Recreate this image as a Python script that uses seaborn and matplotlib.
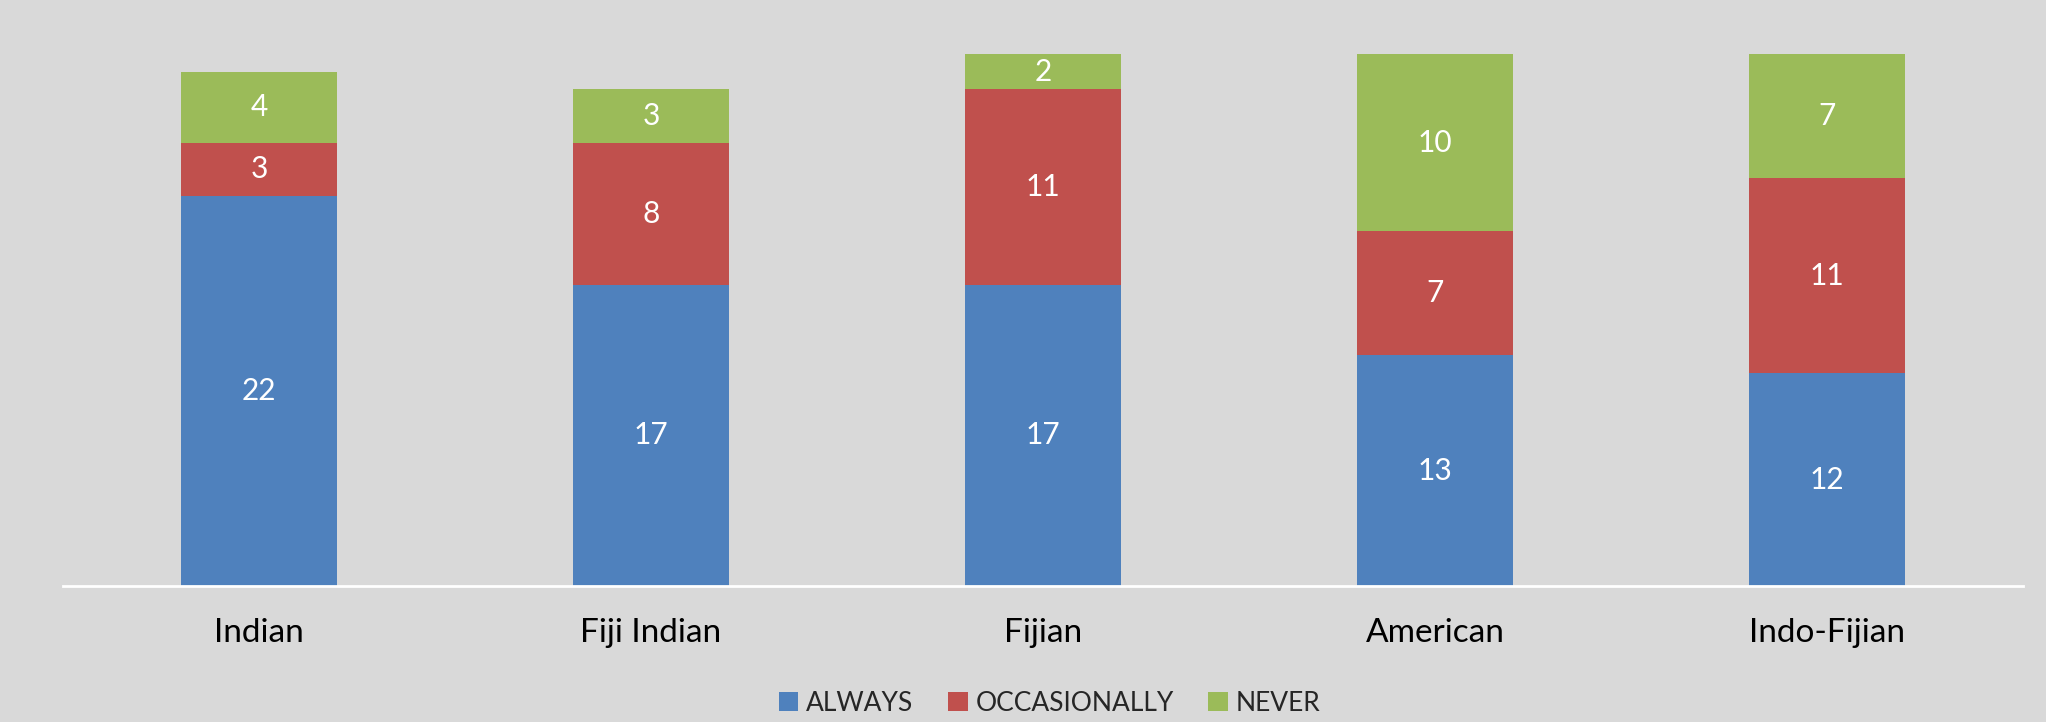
import matplotlib
matplotlib.use("Agg")
import matplotlib.pyplot as plt
import seaborn as sns
import pandas as pd
import numpy as np
from matplotlib.patches import Patch

categories = ["Indian", "Fiji Indian", "Fijian", "American", "Indo-Fijian"]
always = [22, 17, 17, 13, 12]
occasionally = [3, 8, 11, 7, 11]
never = [4, 3, 2, 10, 7]
series_names = ["ALWAYS", "OCCASIONALLY", "NEVER"]
colors = ["#4F81BD", "#C0504D", "#9BBB59"]
bg = "#D9D9D9"

sns.set_theme(style="white")
plt.rcParams['font.family'] = ['Lato', 'DejaVu Sans']

a = np.array(always)
o = np.array(occasionally)
n = np.array(never)
cum_ao = a + o
total = a + o + n

df = pd.DataFrame({"cat": categories, "always": a, "ao": cum_ao, "total": total})

fig = plt.figure(figsize=(20.46, 7.22), dpi=100, facecolor=bg)
ax = fig.add_axes([63/2046, (722-586)/722, (2023-63)/2046, (586-54)/722])
ax.set_facecolor(bg)

for col, c in zip(["total", "ao", "always"], [colors[2], colors[1], colors[0]]):
    sns.barplot(data=df, x="cat", y=col, color=c, width=0.4, ax=ax,
                saturation=1, edgecolor="none", linewidth=0, order=categories)

# data labels
for i in range(len(categories)):
    for bottom, val in [(0, a[i]), (a[i], o[i]), (cum_ao[i], n[i])]:
        ax.text(i, bottom + val/2, str(val), ha="center", va="center",
                color="white", fontsize=21.5)

ax.set_ylim(0, 30)
ax.set_xlim(-0.5, 4.5)
ax.set_xlabel("")
ax.set_ylabel("")
ax.set_yticks([])
for s in ["left", "right", "top"]:
    ax.spines[s].set_visible(False)
ax.spines["bottom"].set_color("white")
ax.spines["bottom"].set_linewidth(2)
ax.tick_params(axis="x", length=0, pad=23, labelsize=24, labelcolor="black")

handles = [Patch(facecolor=c, edgecolor="none") for c in colors]
fig.legend(handles, series_names, loc="center", bbox_to_anchor=(0.513, 0.026),
           ncol=3, frameon=False, fontsize=19, handlelength=0.75, handleheight=0.75,
           handletextpad=0.3, columnspacing=1.3, borderpad=0, borderaxespad=0)

fig.savefig("out.png", dpi=100, facecolor=bg)
